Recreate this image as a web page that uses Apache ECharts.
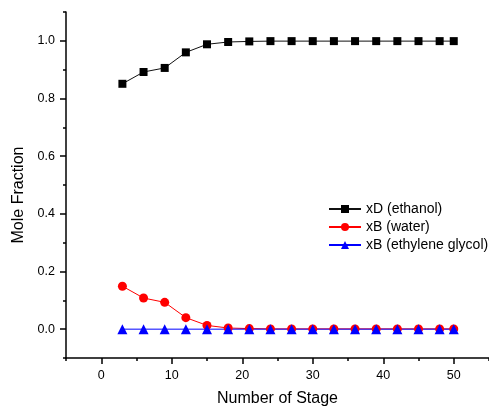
<!DOCTYPE html>
<html>
<head>
<meta charset="utf-8">
<script src="https://cdn.jsdelivr.net/npm/echarts@6/dist/echarts.min.js"></script>
<style>
  html, body { margin: 0; padding: 0; background: #fff; }
  #chart { width: 489px; height: 412px; }
</style>
</head>
<body>
<div id="chart"></div>
<script>
// Stage numbers and mole fractions per component
const stages = [3, 6, 9, 12, 15, 18, 21, 24, 27, 30, 33, 36, 39, 42, 45, 48, 50];
const xdEthanol = [0.851, 0.892, 0.906, 0.960, 0.988, 0.996, 0.998, 0.999, 0.999, 0.999, 0.999, 0.999, 0.999, 0.999, 0.999, 0.999, 0.999];
const xbWater = [0.149, 0.108, 0.093, 0.040, 0.013, 0.004, 0.002, 0.001, 0.001, 0.001, 0.001, 0.001, 0.001, 0.001, 0.001, 0.001, 0.001];
const xbGlycol = [0, 0, 0, 0, 0, 0, 0, 0, 0, 0, 0, 0, 0, 0, 0, 0, 0];

// Axis ticks: labelled major ticks and unlabelled minor ticks
const xMajorTicks = [0, 10, 20, 30, 40, 50];
const xMinorTicks = [-5, 5, 15, 25, 35, 45, 55];
const yMajorTicks = [0.0, 0.2, 0.4, 0.6, 0.8, 1.0];
const yMinorTicks = [-0.1, 0.1, 0.3, 0.5, 0.7, 0.9, 1.1];

const FONT = '"Liberation Sans", Arial, sans-serif';
const INK = '#000';

function pairs(xs, ys) { return xs.map((x, i) => [x, ys[i]]); }

const chart = echarts.init(document.getElementById('chart'), null, { renderer: 'canvas' });

const xRange = { min: -5, max: 55 };
const yRange = { min: -0.1, max: 1.1 };

chart.setOption({
  animation: false,
  backgroundColor: '#fff',
  grid: { left: 66, top: 12, width: 432, height: 352, containLabel: false },
  legend: {
    orient: 'vertical',
    left: 323,
    top: 197,
    itemWidth: 32,
    itemHeight: 10,
    itemGap: 4,
    textStyle: { fontFamily: FONT, fontSize: 14, color: INK, lineHeight: 14 },
    data: ['xD (ethanol)', 'xB (water)', 'xB (ethylene glycol)']
  },
  xAxis: [
    {
      type: 'value', ...xRange,
      name: 'Number of Stage', nameLocation: 'middle', nameGap: 33,
      nameTextStyle: { fontFamily: FONT, fontSize: 16, color: INK },
      axisLine: { show: true, onZero: false, lineStyle: { color: INK, width: 1.5 } },
      axisTick: { show: true, inside: false, length: 6, customValues: xMajorTicks, lineStyle: { color: INK, width: 1.5 } },
      axisLabel: { show: true, customValues: xMajorTicks, margin: 11, fontFamily: FONT, fontSize: 12.5, color: INK },
      splitLine: { show: false }
    },
    {
      type: 'value', ...xRange, position: 'bottom',
      axisLine: { show: false, onZero: false },
      axisTick: { show: true, inside: false, length: 3, customValues: xMinorTicks, lineStyle: { color: INK, width: 1.5 } },
      axisLabel: { show: false },
      splitLine: { show: false }
    }
  ],
  yAxis: [
    {
      type: 'value', ...yRange,
      name: 'Mole Fraction', nameLocation: 'middle', nameGap: 38,
      nameTextStyle: { fontFamily: FONT, fontSize: 16, color: INK, padding: [0, 20, 0, 0] },
      axisLine: { show: true, onZero: false, lineStyle: { color: INK, width: 1.5 } },
      axisTick: { show: true, inside: false, length: 6, customValues: yMajorTicks, lineStyle: { color: INK, width: 1.5 } },
      axisLabel: {
        show: true, customValues: yMajorTicks, margin: 11,
        fontFamily: FONT, fontSize: 12.5, color: INK,
        formatter: v => v.toFixed(1)
      },
      splitLine: { show: false }
    },
    {
      type: 'value', ...yRange, position: 'left',
      axisLine: { show: false, onZero: false },
      axisTick: { show: true, inside: false, length: 3, customValues: yMinorTicks, lineStyle: { color: INK, width: 1.5 } },
      axisLabel: { show: false },
      splitLine: { show: false }
    }
  ],
  series: [
    {
      name: 'xD (ethanol)', type: 'line',
      data: pairs(stages, xdEthanol),
      symbol: 'rect', symbolSize: 8,
      lineStyle: { color: '#111', width: 1 },
      itemStyle: { color: '#000' }
    },
    {
      name: 'xB (water)', type: 'line',
      data: pairs(stages, xbWater),
      symbol: 'circle', symbolSize: 9,
      lineStyle: { color: '#ff0000', width: 1 },
      itemStyle: { color: '#ff0000' }
    },
    {
      name: 'xB (ethylene glycol)', type: 'line',
      data: pairs(stages, xbGlycol),
      symbol: 'triangle', symbolSize: 10,
      lineStyle: { color: '#0000ff', width: 1 },
      itemStyle: { color: '#0000ff' }
    }
  ]
});
</script>
</body>
</html>
